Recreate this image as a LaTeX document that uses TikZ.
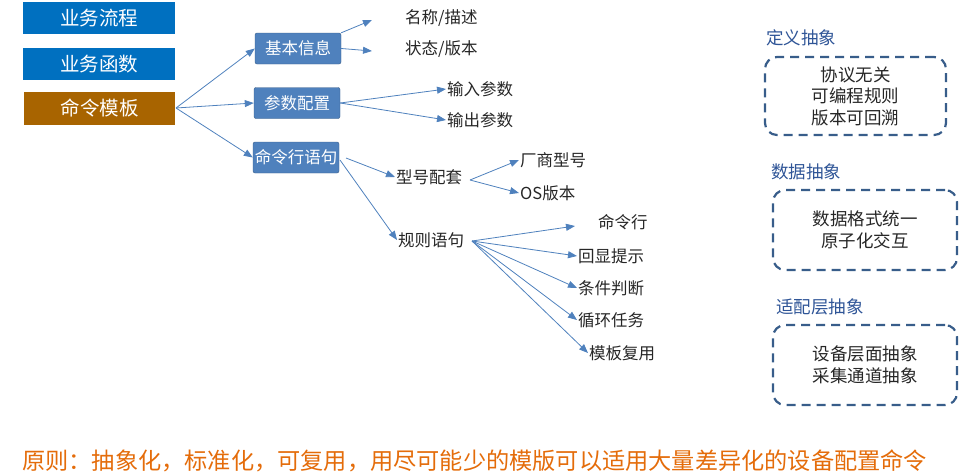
\documentclass[tikz,border=0pt]{standalone}
\usepackage{fontspec}
\setmainfont{Noto Sans CJK SC}
\usetikzlibrary{arrows.meta}
\definecolor{bblue}{HTML}{0070C0}
\definecolor{brn}{HTML}{A86400}
\definecolor{sblue}{HTML}{4F81BD}
\definecolor{dblue}{HTML}{385D8A}
\definecolor{ttl}{HTML}{2F5597}
\definecolor{org}{HTML}{E46C0A}
\tikzset{
 topbox/.style={minimum width=152pt,minimum height=32pt,inner sep=0pt,text=white,font=\fontsize{19.5}{20}\selectfont},
 sbox/.style={draw=dblue,fill=sblue,rounded corners=2pt,minimum width=86pt,minimum height=31pt,inner sep=0pt,text=white,font=\fontsize{16.5}{18}\selectfont},
 leaf/.style={inner sep=1pt,font=\fontsize{16.5}{18}\selectfont,text=black!85},
 arr/.style={draw=sblue,line width=0.8pt,-{Triangle[length=9pt,width=7pt]}},
 dbox/.style={draw=dblue,line width=2.2pt,dash pattern=on 9pt off 6pt,rounded corners=12pt,align=center,font=\fontsize{17.5}{21.5}\selectfont,text=black!85},
 ttlf/.style={text=ttl,font=\fontsize{17.5}{18}\selectfont}
}
\begin{document}
\begin{tikzpicture}[x=1pt,y=-1pt]
\useasboundingbox (0,0) rectangle (976,474);
\node[topbox,fill=bblue] (a1) at (99,18) {业务流程};
\node[topbox,fill=bblue] (a2) at (99,64) {业务函数};
\node[topbox,fill=brn,minimum width=151pt,minimum height=33pt] (a3) at (99.5,108.5) {命令模板};
\node[sbox] (b1) at (298,48.5) {基本信息};
\node[sbox] (b2) at (297,103) {参数配置};
\node[sbox] (b3) at (296,157.5) {命令行语句};
\node[leaf,anchor=west] (c1) at (404,18) {名称/描述};
\node[leaf,anchor=west] (c2) at (404,49) {状态/版本};
\node[leaf,anchor=west] (c3) at (446,89) {输入参数};
\node[leaf,anchor=west] (c4) at (446,120) {输出参数};
\node[leaf,anchor=west] (c5) at (395,177) {型号配套};
\node[leaf,anchor=west] (c6) at (397,240) {规则语句};
\node[leaf,anchor=west] (d1) at (519,160) {厂商型号};
\node[leaf,anchor=west] (d2) at (519,193) {OS版本};
\node[leaf,anchor=west] (e1) at (597,222) {命令行};
\node[leaf,anchor=west] (e2) at (577,256) {回显提示};
\node[leaf,anchor=west] (e3) at (577,288) {条件判断};
\node[leaf,anchor=west] (e4) at (577,320) {循环任务};
\node[leaf,anchor=west] (e5) at (588,353) {模板复用};
\coordinate (a3r) at (176,108);
\draw[arr] (a3r) -- (b1.west);
\draw[arr] (a3r) -- (b2.west);
\draw[arr] (a3r) -- (b3.west);
\draw[arr] (b1.north east) -- (372,20);
\draw[arr] (b1.east) -- (372,51);
\draw[arr] (b2.east) -- (c3.west);
\draw[arr] (b2.east) -- (c4.west);
\draw[arr] (346,158) -- (c5.west);
\draw[arr] (340,160) -- (c6.west);
\coordinate (c5r) at (470,180);
\draw[arr] (c5r) -- (d1.west);
\draw[arr] (c5r) -- (d2.west);
\coordinate (c6r) at (472,241);
\draw[arr] (c6r) -- (575,226);
\draw[arr] (c6r) -- (e2.west);
\draw[arr] (c6r) -- (e3.west);
\draw[arr] (c6r) -- (e4.west);
\draw[arr] (c6r) -- (e5.west);
\node[ttlf] (t1) at (801,38) {定义抽象};
\node[dbox,minimum width=181pt,minimum height=78pt] (r1) at (855.5,96) {协议无关\\可编程规则\\版本可回溯};
\node[ttlf] (t2) at (806,172) {数据抽象};
\node[dbox,minimum width=184pt,minimum height=80pt] (r2) at (865,230) {数据格式统一\\原子化交互};
\node[ttlf] (t3) at (820,307) {适配层抽象};
\node[dbox,minimum width=184pt,minimum height=80pt] (r3) at (865,365) {设备层面抽象\\采集通道抽象};
\node[anchor=west,text=org,inner sep=0pt,font=\fontsize{23.2}{24}\selectfont] (p) at (22,461) {原则：抽象化，标准化，可复用，用尽可能少的模版可以适用大量差异化的设备配置命令};
\end{tikzpicture}
\end{document}
